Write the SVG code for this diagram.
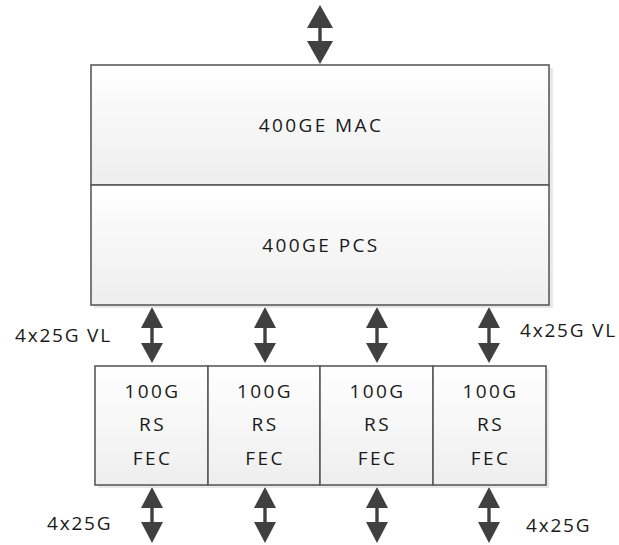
<svg xmlns="http://www.w3.org/2000/svg" width="619" height="545" viewBox="0 0 619 545">
<defs>
<linearGradient id="g" x1="0" y1="0" x2="0" y2="1">
<stop offset="0" stop-color="#ffffff"/>
<stop offset="1" stop-color="#eeeeee"/>
</linearGradient>
</defs>
<style>
.box{fill:url(#g);stroke:#5a5a5a;stroke-width:1.6}
.sh{fill:#d9d9d9;opacity:0.6}
.t{font-family:"Open Sans","Liberation Sans",sans-serif;font-size:19px;fill:#1a1a1a;text-anchor:middle;letter-spacing:2.4px}
.l{font-family:"Open Sans","Liberation Sans",sans-serif;font-size:19px;fill:#1a1a1a;letter-spacing:1.8px}
.ar{fill:#404040}
</style>
<rect width="619" height="545" fill="#ffffff"/>
<g id="connectors">
<path class="ar" d="M320,5 L333,28 L321.7,28 L321.7,41 L333,41 L320,64 L307,41 L318.3,41 L318.3,28 L307,28 Z"/>
<path class="ar" d="M152,307 L163,328 L153.7,328 L153.7,343 L163,343 L152,363 L141,343 L150.3,343 L150.3,328 L141,328 Z"/>
<path class="ar" d="M265,307 L276,328 L266.7,328 L266.7,343 L276,343 L265,363 L254,343 L263.3,343 L263.3,328 L254,328 Z"/>
<path class="ar" d="M377,307 L388,328 L378.7,328 L378.7,343 L388,343 L377,363 L366,343 L375.3,343 L375.3,328 L366,328 Z"/>
<path class="ar" d="M489,307 L500,328 L490.7,328 L490.7,343 L500,343 L489,363 L478,343 L487.3,343 L487.3,328 L478,328 Z"/>
<path class="ar" d="M152,487 L163,508 L153.7,508 L153.7,522 L163,522 L152,543 L141,522 L150.3,522 L150.3,508 L141,508 Z"/>
<path class="ar" d="M265,487 L276,508 L266.7,508 L266.7,522 L276,522 L265,543 L254,522 L263.3,522 L263.3,508 L254,508 Z"/>
<path class="ar" d="M377,487 L388,508 L378.7,508 L378.7,522 L388,522 L377,543 L366,522 L375.3,522 L375.3,508 L366,508 Z"/>
<path class="ar" d="M489,487 L500,508 L490.7,508 L490.7,522 L500,522 L489,543 L478,522 L487.3,522 L487.3,508 L478,508 Z"/>
</g>
<g id="shadows">
<rect class="sh" x="94" y="68" width="459" height="240"/>
<rect class="sh" x="98" y="369" width="451" height="119"/>
</g>
<g id="mac">
<rect class="box" x="91" y="65" width="458" height="120"/>
<text class="t" x="321" y="132">400GE MAC</text>
</g>
<g id="pcs">
<rect class="box" x="91" y="185" width="458" height="120"/>
<text class="t" x="321" y="252">400GE PCS</text>
</g>
<g id="fec1">
<rect class="box" x="95" y="366" width="113" height="119"/>
<text class="t" x="152.5" y="398">100G</text>
<text class="t" x="152.5" y="431">RS</text>
<text class="t" x="152.5" y="465">FEC</text>
</g>
<g id="fec2">
<rect class="box" x="208" y="366" width="112" height="119"/>
<text class="t" x="265" y="398">100G</text>
<text class="t" x="265" y="431">RS</text>
<text class="t" x="265" y="465">FEC</text>
</g>
<g id="fec3">
<rect class="box" x="320" y="366" width="113" height="119"/>
<text class="t" x="377.5" y="398">100G</text>
<text class="t" x="377.5" y="431">RS</text>
<text class="t" x="377.5" y="465">FEC</text>
</g>
<g id="fec4">
<rect class="box" x="433" y="366" width="113" height="119"/>
<text class="t" x="490.5" y="398">100G</text>
<text class="t" x="490.5" y="431">RS</text>
<text class="t" x="490.5" y="465">FEC</text>
</g>
<g id="labels">
<text class="l" x="15" y="342">4x25G VL</text>
<text class="l" x="520" y="337">4x25G VL</text>
<text class="l" x="47" y="530">4x25G</text>
<text class="l" x="526" y="532">4x25G</text>
</g>
</svg>
